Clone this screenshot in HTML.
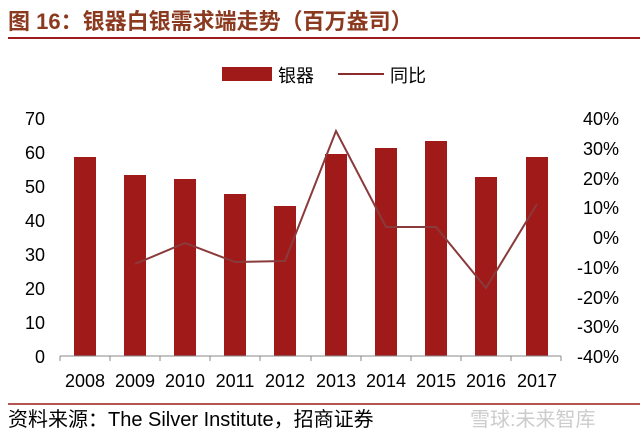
<!DOCTYPE html><html><head><meta charset="utf-8"><style>
body{margin:0;background:#fff;width:640px;height:442px;overflow:hidden;font-family:"Liberation Sans","Noto Sans CJK SC",sans-serif}
</style></head><body>
<svg width="640" height="442" xmlns="http://www.w3.org/2000/svg" font-family="Liberation Sans, Noto Sans CJK SC, sans-serif">
<text x="8" y="29" font-size="22" font-weight="bold" fill="#8B3A1F">图 16：银器白银需求端走势（百万盎司）</text>
<line x1="8" y1="38" x2="640" y2="38" stroke="#9e1c1c" stroke-width="2"/>
<rect x="222" y="67" width="50" height="14" fill="#a11a1a"/>
<text x="278" y="82" font-size="18" fill="#000">银器</text>
<line x1="338" y1="74" x2="384" y2="74" stroke="#8a2a2a" stroke-width="2"/>
<text x="390" y="82" font-size="18" fill="#000">同比</text>
<g font-size="18" fill="#000" text-anchor="end">
<text x="45" y="125">70</text><text x="45" y="159">60</text><text x="45" y="193">50</text><text x="45" y="227">40</text><text x="45" y="261">30</text><text x="45" y="295">20</text><text x="45" y="329">10</text><text x="45" y="363">0</text>
</g>
<g font-size="18" fill="#000" text-anchor="end">
<text x="619" y="125">40%</text><text x="619" y="155">30%</text><text x="619" y="185">20%</text><text x="619" y="214">10%</text><text x="619" y="244">0%</text><text x="619" y="274">-10%</text><text x="619" y="304">-20%</text><text x="619" y="333">-30%</text><text x="619" y="363">-40%</text>
</g>
<g fill="#a11a1a">
<rect x="74" y="157" width="22" height="199"/>
<rect x="124" y="175" width="22" height="181"/>
<rect x="174" y="179" width="22" height="177"/>
<rect x="224" y="194" width="22" height="162"/>
<rect x="274" y="206" width="22" height="150"/>
<rect x="325" y="154" width="22" height="202"/>
<rect x="375" y="148" width="22" height="208"/>
<rect x="425" y="141" width="22" height="215"/>
<rect x="475" y="177" width="22" height="179"/>
<rect x="526" y="157" width="22" height="199"/>
</g>
<line x1="60" y1="356" x2="561" y2="356" stroke="#888" stroke-width="1"/>
<g stroke="#888"><line x1="60" y1="356" x2="60" y2="361"/><line x1="110" y1="356" x2="110" y2="361"/><line x1="160" y1="356" x2="160" y2="361"/><line x1="210" y1="356" x2="210" y2="361"/><line x1="260" y1="356" x2="260" y2="361"/><line x1="311" y1="356" x2="311" y2="361"/><line x1="361" y1="356" x2="361" y2="361"/><line x1="411" y1="356" x2="411" y2="361"/><line x1="461" y1="356" x2="461" y2="361"/><line x1="511" y1="356" x2="511" y2="361"/><line x1="561" y1="356" x2="561" y2="361"/></g>
<polyline fill="none" stroke="#8a3a3a" stroke-width="2" points="135,264 185,243 235,262 285,261 336,131 386,227 436,227 486,288 537,204"/>
<g font-size="18" fill="#000" text-anchor="middle">
<text x="85" y="387">2008</text><text x="135" y="387">2009</text><text x="185" y="387">2010</text><text x="235" y="387">2011</text><text x="285" y="387">2012</text><text x="336" y="387">2013</text><text x="386" y="387">2014</text><text x="436" y="387">2015</text><text x="486" y="387">2016</text><text x="537" y="387">2017</text>
</g>
<line x1="8" y1="404" x2="640" y2="404" stroke="#9e1c1c" stroke-width="1.5"/>
<text x="8" y="426" font-size="20" fill="#000">资料来源：The Silver Institute，招商证券</text>
<text x="470" y="426" font-size="20" fill="#ccc">雪球:未来智库</text>
</svg>
</body></html>
